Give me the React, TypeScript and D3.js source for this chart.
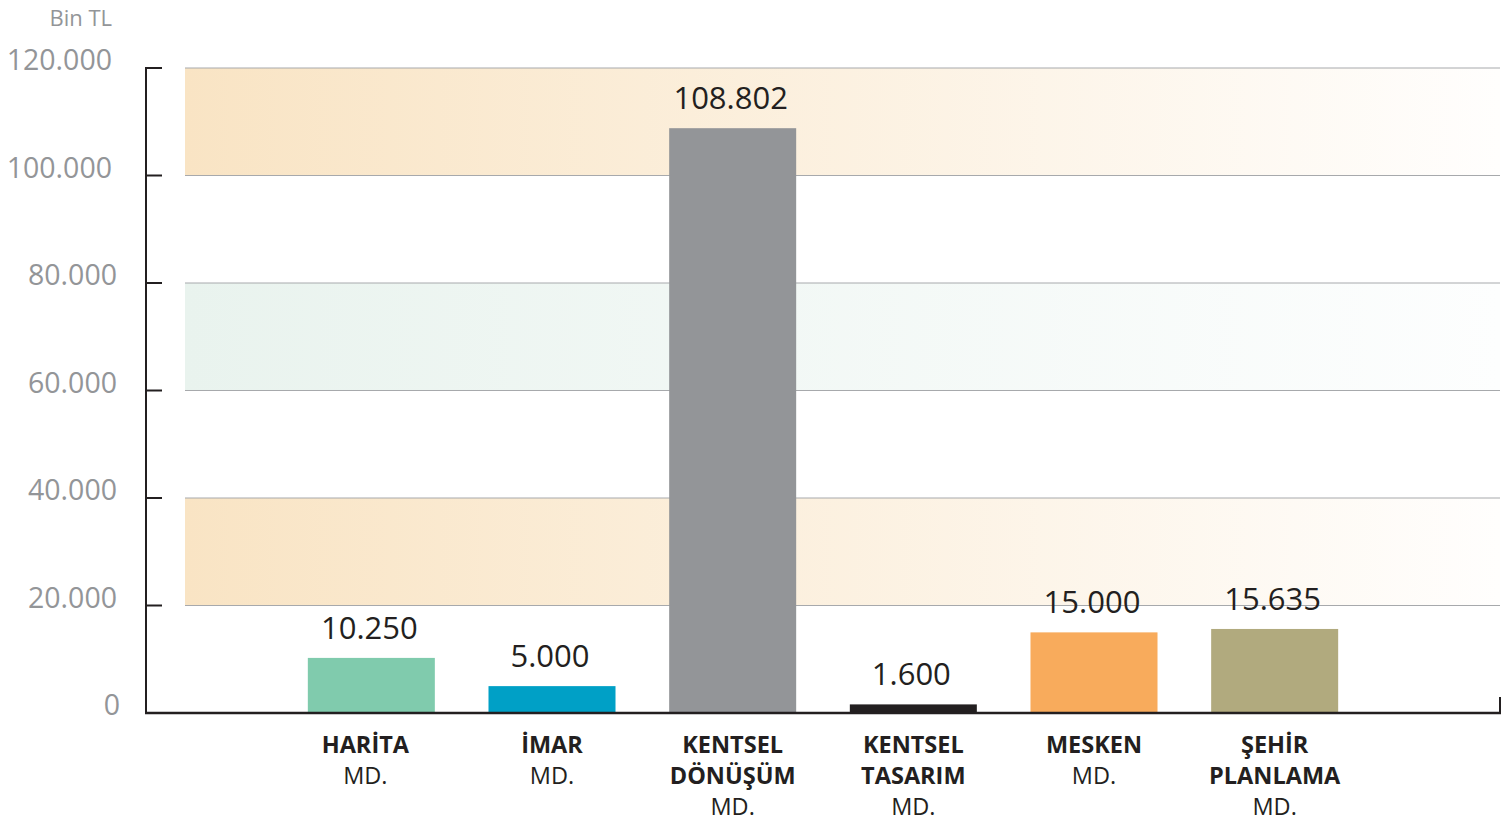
import React, { useEffect, useRef } from 'react';
import * as d3 from 'd3';

const categories = ['HARİTA MD.', 'İMAR MD.', 'KENTSEL DÖNÜŞÜM MD.', 'KENTSEL TASARIM MD.', 'MESKEN MD.', 'ŞEHİR PLANLAMA MD.'];
const labelLines = [
  ['HARİTA', 'MD.'],
  ['İMAR', 'MD.'],
  ['KENTSEL', 'DÖNÜŞÜM', 'MD.'],
  ['KENTSEL', 'TASARIM', 'MD.'],
  ['MESKEN', 'MD.'],
  ['ŞEHİR', 'PLANLAMA', 'MD.'],
];
const values = [10250, 5000, 108802, 1600, 15000, 15635];
const barColors = ['#80cbad', '#00a0c6', '#939598', '#231f20', '#f8ab5c', '#b1aa7e'];
const yTicks = [0, 20000, 40000, 60000, 80000, 100000, 120000];
// shaded bands [from, to, gradient id]
const bands: [number, number, string][] = [
  [100000, 120000, 'bandOrange'],
  [60000, 80000, 'bandMint'],
  [20000, 40000, 'bandOrange'],
];

const fmt = (v: number) => d3.format(',')(v).replace(/,/g, '.');

const App: React.FC = () => {
  const svgRef = useRef<SVGSVGElement | null>(null);

  useEffect(() => {
    if (!svgRef.current) return;
    const width = 1508;
    const height = 823;
    const svg = d3.select(svgRef.current);
    svg.selectAll('*').remove();
    svg.attr('width', width).attr('height', height);

    const font = "'Open Sans', 'Noto Sans', sans-serif";
    const axisX = 146;
    const gridLeft = 185;
    const right = 1500;

    const y = d3.scaleLinear().domain([0, 120000]).range([713, 68]);
    const x = d3
      .scaleBand<string>()
      .domain(categories)
      .range([281, 1365])
      .paddingInner(0.297)
      .paddingOuter(0.1485);

    const defs = svg.append('defs');
    const addGrad = (id: string, from: string, to: string) => {
      const g = defs.append('linearGradient').attr('id', id).attr('x1', '0%').attr('x2', '100%');
      g.append('stop').attr('offset', '0%').attr('stop-color', from);
      g.append('stop').attr('offset', '100%').attr('stop-color', to);
    };
    addGrad('bandOrange', '#f9e4c4', '#fffefd');
    addGrad('bandMint', '#e9f3ee', '#fdfefe');

    // bands
    svg
      .selectAll('rect.band')
      .data(bands)
      .enter()
      .append('rect')
      .attr('class', 'band')
      .attr('x', gridLeft)
      .attr('width', right - gridLeft)
      .attr('y', (d) => y(d[1]))
      .attr('height', (d) => y(d[0]) - y(d[1]))
      .attr('fill', (d) => `url(#${d[2]})`);

    // grid lines
    svg
      .selectAll('line.grid')
      .data(yTicks.filter((t) => t > 0))
      .enter()
      .append('line')
      .attr('x1', gridLeft)
      .attr('x2', right)
      .attr('y1', (d) => y(d))
      .attr('y2', (d) => y(d))
      .attr('stroke', '#a7a9ac')
      .attr('stroke-width', 1);

    // bars
    svg
      .selectAll('rect.bar')
      .data(values)
      .enter()
      .append('rect')
      .attr('class', 'bar')
      .attr('x', (_, i) => x(categories[i]) as number)
      .attr('width', x.bandwidth())
      .attr('y', (d) => y(d))
      .attr('height', (d) => y(0) - y(d))
      .attr('fill', (_, i) => barColors[i]);

    // value labels
    svg
      .selectAll('text.value')
      .data(values)
      .enter()
      .append('text')
      .attr('class', 'value')
      .attr('x', (_, i) => (x(categories[i]) as number) + x.bandwidth() / 2 - 2)
      .attr('y', (d) => y(d) - 19)
      .attr('text-anchor', 'middle')
      .style('font-family', font)
      .style('font-size', '31px')
      .attr('fill', '#231f20')
      .text((d) => fmt(d));

    // y axis
    svg
      .append('line')
      .attr('x1', axisX)
      .attr('x2', axisX)
      .attr('y1', y(120000) - 1)
      .attr('y2', y(0) + 1)
      .attr('stroke', '#231f20')
      .attr('stroke-width', 2);

    svg
      .selectAll('line.tick')
      .data(yTicks)
      .enter()
      .append('line')
      .attr('x1', axisX)
      .attr('x2', axisX + 16)
      .attr('y1', (d) => y(d))
      .attr('y2', (d) => y(d))
      .attr('stroke', '#231f20')
      .attr('stroke-width', 2);

    svg
      .selectAll('text.ytick')
      .data(yTicks)
      .enter()
      .append('text')
      .attr('class', 'ytick')
      .attr('x', (d) => (d >= 100000 ? 112 : d === 0 ? 120 : 117))
      .attr('y', (d) => y(d) + 2)
      .attr('text-anchor', 'end')
      .style('font-family', font)
      .style('font-size', '28.5px')
      .attr('fill', '#939598')
      .text((d) => fmt(d));

    svg
      .append('text')
      .attr('x', 112)
      .attr('y', 26)
      .attr('text-anchor', 'end')
      .style('font-family', font)
      .style('font-size', '22px')
      .attr('fill', '#939598')
      .text('Bin TL');

    // x axis
    svg
      .append('line')
      .attr('x1', axisX - 1)
      .attr('x2', right + 1)
      .attr('y1', y(0))
      .attr('y2', y(0))
      .attr('stroke', '#231f20')
      .attr('stroke-width', 2.5);
    svg
      .append('line')
      .attr('x1', right)
      .attr('x2', right)
      .attr('y1', y(0) - 16)
      .attr('y2', y(0))
      .attr('stroke', '#231f20')
      .attr('stroke-width', 2);

    // category labels
    const cat = svg
      .selectAll('text.cat')
      .data(labelLines)
      .enter()
      .append('text')
      .attr('class', 'cat')
      .attr('text-anchor', 'middle')
      .style('font-family', font)
      .style('font-size', '23.5px')
      .attr('fill', '#231f20');

    cat
      .selectAll('tspan')
      .data((d, i) => d.map((line, j) => ({ line, j, i, last: j === d.length - 1 })))
      .enter()
      .append('tspan')
      .attr('x', (d) => (x(categories[d.i]) as number) + x.bandwidth() / 2 - (d.i === 0 ? 6 : 0))
      .attr('y', (d) => 753 + d.j * 31)
      .style('font-weight', (d) => (d.last ? 400 : 700))
      .text((d) => d.line);
  }, []);

  return (
    <div style={{ position: 'absolute', left: 0, top: 0 }}>
      <svg ref={svgRef}></svg>
    </div>
  );
};

export default App;
